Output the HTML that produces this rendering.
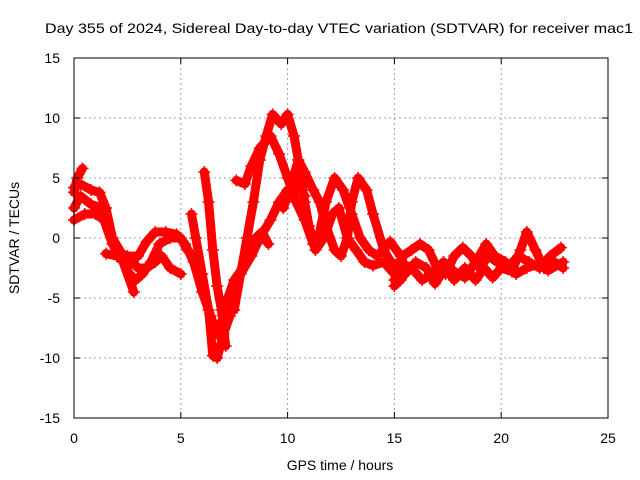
<!DOCTYPE html>
<html><head><meta charset="utf-8"><style>
body{margin:0;background:#fff}
svg{display:block;font-family:"Liberation Sans",Arial,sans-serif}
</style></head><body>
<svg id="chart" width="640" height="480" viewBox="0 0 640 480">
<rect width="640" height="480" fill="#fff"/>
<text x="45" y="33" font-size="14" textLength="588" lengthAdjust="spacingAndGlyphs">Day 355 of 2024, Sidereal Day-to-day VTEC variation (SDTVAR) for receiver mac1</text>
<g id="grid"></g>
<g id="marks"></g>
<rect x="74" y="58" width="534" height="360" fill="none" stroke="#000" stroke-width="1"/>
<g id="ticks"></g>
<text x="340" y="470" font-size="14" text-anchor="middle">GPS time / hours</text>
<text transform="translate(19,238) rotate(-90)" font-size="14" text-anchor="middle">SDTVAR / TECUs</text>
</svg>
<script>
const xTicks=[0,5,10,15,20,25];
const yTicks=[-15,-10,-5,0,5,10,15];
const track0=[[0.0,3.8],[0.15,5.0],[0.4,5.8]];
const track1=[[0.0,4.2],[0.3,4.5],[0.8,4.0],[1.2,3.8],[1.5,2.5],[1.8,0],[2.2,-1.2],[2.6,-1.8],[3.0,-2.5],[3.4,-2.5],[3.8,-2],[4.1,-1.5],[4.5,-2.5],[5.0,-3.0]];
const track2=[[0.0,2.5],[0.3,3.5],[0.8,2.8],[1.3,2.5],[1.8,0],[2.2,-1.5],[2.6,-3.0],[2.9,-3.5],[3.2,-3.0],[3.6,-2],[4.0,-0.5],[4.5,0],[5.0,0],[5.3,-1]];
const track3=[[0.0,1.5],[0.5,2],[1.0,2],[1.4,1.5],[1.8,-0.5],[2.3,-2],[2.8,-4.5]];
const track4=[[1.5,-1.3],[2.0,-1.5],[2.5,-1.5],[3.0,-1.5],[3.4,-0.3],[3.8,0.5],[4.3,0.5],[4.8,0.3],[5.2,-0.5],[5.6,-2.0],[6.0,-4.5],[6.4,-6.5],[6.7,-8.0],[6.9,-7],[7.3,-5],[7.8,-3],[8.3,-1.5],[8.7,0],[9.2,1.5],[9.6,3.0],[10.0,4.0],[10.4,4.5],[10.8,3.5]];
const track5=[[6.1,5.5],[6.3,3],[6.5,-1],[6.7,-4],[6.9,-6],[7.1,-9]];
const track6=[[5.5,2],[5.7,0],[6.0,-3],[6.3,-6],[6.5,-9.8],[6.7,-10],[7.0,-8],[7.3,-6.5]];
const track7=[[7.5,-6],[7.8,-3],[8.1,0],[8.4,3],[8.7,6.5],[9.0,8.5],[9.3,10.3],[9.7,9.5],[10.0,10.3],[10.3,8.5],[10.5,6.5],[10.8,3.0],[11.0,1],[11.3,-1],[11.7,0],[12.1,2],[12.4,2.5],[12.8,0],[13.2,-1],[13.6,-2],[14.0,-2.3],[14.5,-2],[15,-3],[15.3,-3.5]];
const track8=[[7.6,4.8],[8.0,4.5],[8.3,6],[8.7,7.5],[9.2,8.5],[9.6,7],[10.0,5],[10.4,3.0],[10.8,1.5],[11.2,-0.5],[11.5,0.5],[11.8,3],[12.2,5],[12.6,4.0],[13.0,2],[13.4,0],[13.8,-1],[14.2,-1.5],[14.8,-0.3],[15.3,-1.5],[15.5,-2.5]];
const track9=[[9.8,2.5],[10.1,4],[10.5,6.5],[10.8,5.5],[11.2,4],[11.5,3],[11.8,1],[12.2,-1],[12.5,-1.5],[12.8,0],[13.0,3],[13.3,5],[13.7,4],[14.0,2],[14.5,-1],[15.0,-2.5]];
const track10=[[7.0,-7],[7.2,-5],[7.5,-3.5],[7.9,-2.5],[8.2,-0.5],[8.8,0.5],[9.1,-0.5]];
const track11=[[15.0,-3.5],[15.4,-1.5],[15.8,-1],[16.2,-0.5],[16.6,-1],[17.0,-2.5],[17.4,-3],[17.8,-1.5],[18.2,-0.8],[18.6,-1.5],[19.0,-2.5],[19.4,-1.5],[19.8,-2],[20.3,-2.5],[20.8,-1.5],[21.3,-2],[21.8,-2.5],[22.3,-1.5],[22.8,-0.8]];
const track12=[[15.0,-4],[15.5,-3],[16.0,-2],[16.5,-2.5],[16.9,-3.8],[17.4,-2.5],[17.8,-3.5],[18.3,-2.5],[18.8,-3.5],[19.2,-2.5],[19.6,-3.3],[20.0,-2.5],[20.5,-2.8],[20.9,-1.0],[21.2,0.5],[21.6,-1],[22.0,-2.5],[22.5,-2],[22.9,-2.5]];
const track13=[[15.2,-2],[15.8,-2.5],[16.3,-3.5],[16.8,-3],[17.3,-2],[17.8,-2.8],[18.3,-3.3],[18.8,-2],[19.3,-0.5],[19.7,-1.5],[20.2,-2],[20.7,-3],[21.2,-2.5],[21.7,-2.2],[22.2,-2.7],[22.9,-2]];
const tracks=[track0,track1,track2,track3,track4,track5,track6,track7,track8,track9,track10,track11,track12,track13];

const NS='http://www.w3.org/2000/svg';
const X0=74,X1=608,Y0=418,Y1=58;
function sx(v){return X0+(v-0)/(25-0)*(X1-X0);}
function sy(v){return Y0-(v+15)/30*(Y0-Y1);}
const grid=document.getElementById('grid'),ticks=document.getElementById('ticks'),marks=document.getElementById('marks');
function mk(tag,attrs,parent){const e=document.createElementNS(NS,tag);for(const k in attrs)e.setAttribute(k,attrs[k]);parent.appendChild(e);return e;}
xTicks.forEach(t=>{
  const x=sx(t);
  if(t>0&&t<25){const g=mk('line',{x1:x,x2:x,y1:Y1,y2:Y0,stroke:'#a0a0a0','stroke-dasharray':'2,3'},grid);
  
  }
  mk('line',{x1:x,x2:x,y1:Y0,y2:Y0-6,stroke:'#000'},ticks);
  mk('line',{x1:x,x2:x,y1:Y1,y2:Y1+6,stroke:'#000'},ticks);
  const l=mk('text',{x:x,y:Y0+25,'font-size':14,'text-anchor':'middle'},ticks);
  
  
  l.textContent=t;
});
yTicks.forEach(t=>{
  const y=sy(t);
  if(t>-15&&t<15){const g=mk('line',{x1:X0,x2:X1,y1:y,y2:y,stroke:'#a0a0a0','stroke-dasharray':'2,3'},grid);
  
  }
  mk('line',{x1:X0,x2:X0+6,y1:y,y2:y,stroke:'#000'},ticks);
  mk('line',{x1:X1,x2:X1-6,y1:y,y2:y,stroke:'#000'},ticks);
  const l=mk('text',{x:X0-14,y:y+5,'font-size':14,'text-anchor':'end'},ticks);
  
  
  l.textContent=t;
});
tracks.forEach((tr,i)=>{
  const pts=tr.map(p=>sx(p[0]).toFixed(1)+','+sy(p[1]).toFixed(1)).join(' ');
  const pl=mk('polyline',{points:pts,fill:'none',stroke:'#ff0000','stroke-width':9,'stroke-linejoin':'round','stroke-linecap':'round'},marks);
  
  
  tr.forEach(p=>{
    const x=sx(p[0]),y=sy(p[1]);
    const m=mk('path',{d:`M${x-6},${y}h12M${x},${y-6}v12`,stroke:'#ff0000','stroke-width':1.5},marks);
    
    
  });
});
</script>
</body></html>
